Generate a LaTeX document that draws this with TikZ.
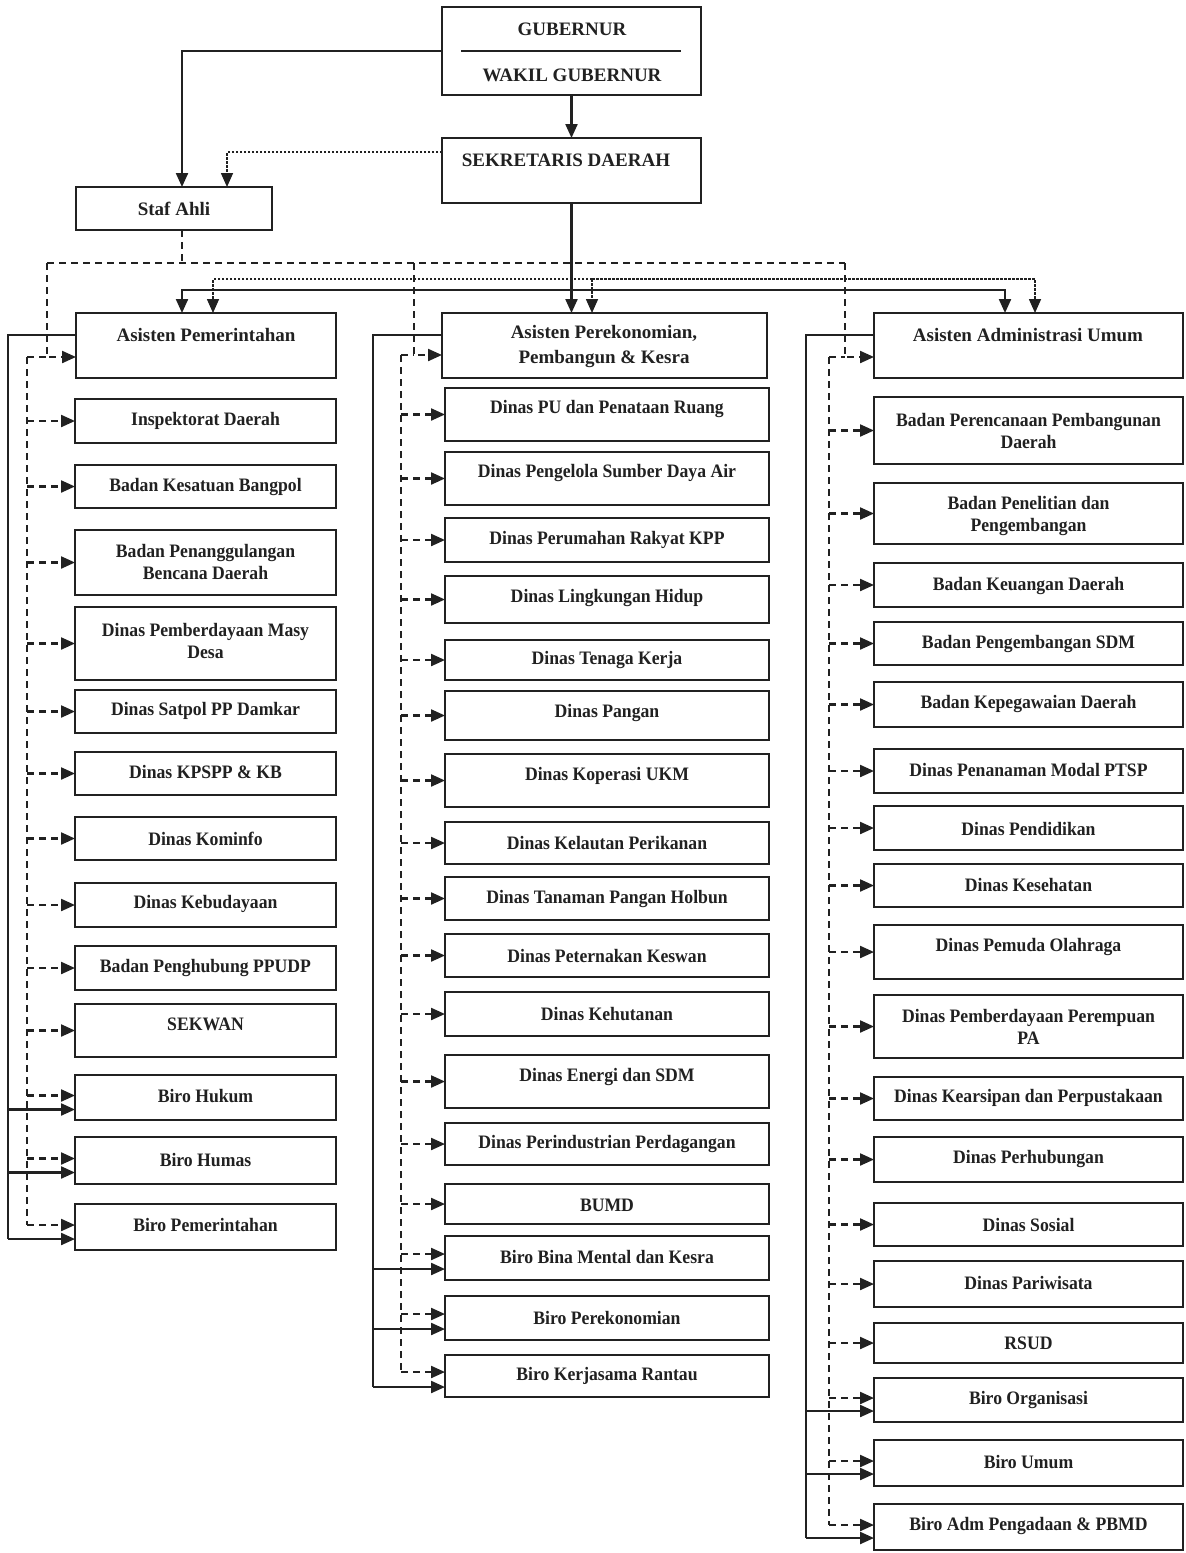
\documentclass[tikz,border=0pt]{standalone}
\usepackage{fontspec}
\setmainfont{Liberation Serif}
\newfontfamily\condfont{Liberation Serif}[FakeStretch=0.93]
\usetikzlibrary{arrows.meta,calc}
\definecolor{ink}{gray}{0.13}
\tikzset{
  box/.style={draw=ink, line width=2.4pt, rectangle, inner sep=0pt, outer sep=0pt},
  txt/.style={text=ink, font=\condfont\bfseries\fontsize{19}{22}\selectfont, align=center, inner sep=0pt},
  bigtxt/.style={text=ink, font=\bfseries\fontsize{19}{25}\selectfont, align=center, inner sep=0pt},
  sline/.style={draw=ink, line width=2.2pt},
  sarr/.style={sline, -{Triangle[length=14pt,width=12pt]}},
  dsh/.style={draw=ink, line width=2.2pt, dash pattern=on 7pt off 5pt},
  darr/.style={dsh, -{Triangle[length=14pt,width=12pt]}},
  dotln/.style={draw=ink, line width=1.6pt, dash pattern=on 2.5pt off 1.5pt},
  dotarr/.style={dotln, -{Triangle[length=14pt,width=12pt]}},
}
\newcommand\bx[7]{%
  \node[box, anchor=north west, minimum width={#4pt-#2pt}, minimum height={#5pt-#3pt}] (#1) at (#2,#3) {};
  \node[txt] (#1t) at ({(#2+#4)/2},#6) {#7};}
\newcommand\lbx[5]{\bx{#1}{75}{#2}{336}{#3}{#4}{#5}}
\newcommand\mbx[5]{\bx{#1}{445}{#2}{769}{#3}{#4}{#5}}
\newcommand\rbx[5]{\bx{#1}{874}{#2}{1183}{#3}{#4}{#5}}
\begin{document}
\begin{tikzpicture}[x=1pt,y=-1pt]
\useasboundingbox[fill=white] (0,0) rectangle (1186,1553);

% ---------- top ----------
\node[box, anchor=north west, minimum width=259pt, minimum height=88pt] (gub) at (442,7) {};
\node[bigtxt] (gubt) at (572,29) {GUBERNUR};
\node[bigtxt] (wgubt) at (572,75) {WAKIL GUBERNUR};
\draw[sline, line width=1.6pt] ([xshift=19pt]gub.west) -- ([xshift=-20pt]gub.east);

\node[box, anchor=north west, minimum width=259pt, minimum height=65pt] (sekda) at (442,138) {};
\node[bigtxt] (sekdat) at (566,160) {SEKRETARIS DAERAH};

\node[box, anchor=north west, minimum width=196pt, minimum height=43pt] (staf) at (76,187) {};
\node[bigtxt] (staft) at (174,209) {Staf Ahli};

\draw[sarr] (gub.south) -- (sekda.north);
\draw[sarr] (gub.west) -| ([xshift=8pt]staf.north);
\draw[dotarr] ([yshift=18.5pt]sekda.west) -| ([xshift=53pt]staf.north);

% ---------- asisten ----------
\node[box, anchor=north west, minimum width=260pt, minimum height=65pt] (apem) at (76,313) {};
\node[bigtxt] (apemt) at (206,335) {Asisten Pemerintahan};
\node[box, anchor=north west, minimum width=325pt, minimum height=65pt] (aek) at (442,313) {};
\node[bigtxt] (aekt) at (604,346) {Asisten Perekonomian,\\Pembangun \& Kesra};
\node[box, anchor=north west, minimum width=309pt, minimum height=65pt] (aum) at (874,313) {};
\node[bigtxt] (aumt) at (1028,335) {Asisten Administrasi Umum};

% solid from sekda
\coordinate (sbus) at (572,290);
\draw[sarr] (sekda.south) -- (sekda.south |- aek.north);
\draw[sarr] (sbus) -| ([xshift=-24pt]apem.north);
\draw[sarr] (sbus) -| ([xshift=-23.5pt]aum.north);
% dotted bus
\coordinate (dbus) at (592,279);
\draw[dotarr] (dbus) -| ([xshift=7pt]apem.north);
\draw[dotarr] (dbus) -- (dbus |- aek.north);
\draw[dotarr] (dbus) -| ([xshift=6.5pt]aum.north);
% dashed from staf ahli
\coordinate (stb) at (182,263);
\coordinate (dl) at (47,263);
\coordinate (dm) at (414,263);
\coordinate (dr) at (845,263);
\draw[dsh] ([xshift=8pt]staf.south) -- (stb);
\draw[dsh] (dl) -- (dr);
\draw[darr] (dl) |- ([yshift=-11.5pt]apem.west);
\draw[darr] (dm) |- ([yshift=-9.5pt]aek.west);
\draw[darr] (dr) |- ([yshift=-11.5pt]aum.west);

% ---------- left column ----------
\lbx{insp}{399}{443}{421}{Inspektorat Daerah}
\lbx{kesb}{465}{508}{487}{Badan Kesatuan Bangpol}
\lbx{bpbd}{530}{595}{562}{Badan Penanggulangan\\Bencana Daerah}
\lbx{pmd}{607}{680}{641}{Dinas Pemberdayaan Masy\\Desa}
\lbx{satpol}{690}{733}{711}{Dinas Satpol PP Damkar}
\lbx{kpspp}{752}{795}{772}{Dinas KPSPP \& KB}
\lbx{kominfo}{817}{860}{839}{Dinas Kominfo}
\lbx{budaya}{883}{927}{904}{Dinas Kebudayaan}
\lbx{penghub}{946}{990}{968}{Badan Penghubung PPUDP}
\lbx{sekwan}{1004}{1057}{1024}{SEKWAN}
\lbx{hukum}{1075}{1120}{1096}{Biro Hukum}
\lbx{humas}{1137}{1184}{1160}{Biro Humas}
\lbx{bpem}{1204}{1250}{1225}{Biro Pemerintahan}

% ---------- middle column ----------
\mbx{pu}{388}{441}{409}{Dinas PU dan Penataan Ruang}
\mbx{psda}{452}{505}{473}{Dinas Pengelola Sumber Daya Air}
\mbx{perkim}{518}{562}{540}{Dinas Perumahan Rakyat KPP}
\mbx{lh}{576}{623}{598}{Dinas Lingkungan Hidup}
\mbx{naker}{640}{680}{660}{Dinas Tenaga Kerja}
\mbx{pangan}{691}{740}{713}{Dinas Pangan}
\mbx{kop}{754}{807}{776}{Dinas Koperasi UKM}
\mbx{kkp}{822}{864}{843}{Dinas Kelautan Perikanan}
\mbx{tph}{877}{920}{899}{Dinas Tanaman Pangan Holbun}
\mbx{nak}{934}{977}{956}{Dinas Peternakan Keswan}
\mbx{hut}{992}{1036}{1014}{Dinas Kehutanan}
\mbx{esdm}{1055}{1108}{1077}{Dinas Energi dan SDM}
\mbx{indag}{1123}{1165}{1144}{Dinas Perindustrian Perdagangan}
\mbx{bumd}{1184}{1224}{1205}{BUMD}
\mbx{mental}{1236}{1280}{1257}{Biro Bina Mental dan Kesra}
\mbx{biroek}{1296}{1340}{1318}{Biro Perekonomian}
\mbx{rantau}{1355}{1397}{1376}{Biro Kerjasama Rantau}

% ---------- right column ----------
\rbx{bappeda}{397}{464}{431}{Badan Perencanaan Pembangunan\\Daerah}
\rbx{litbang}{483}{544}{516}{Badan Penelitian dan\\Pengembangan}
\rbx{bkd}{563}{607}{586}{Badan Keuangan Daerah}
\rbx{bpsdm}{622}{665}{644}{Badan Pengembangan SDM}
\rbx{bkpd}{682}{727}{704}{Badan Kepegawaian Daerah}
\rbx{dpmptsp}{749}{793}{770}{Dinas Penanaman Modal PTSP}
\rbx{didik}{806}{850}{829}{Dinas Pendidikan}
\rbx{kes}{864}{907}{885}{Dinas Kesehatan}
\rbx{dispora}{925}{979}{947}{Dinas Pemuda Olahraga}
\rbx{dppa}{995}{1058}{1027}{Dinas Pemberdayaan Perempuan\\PA}
\rbx{arsip}{1077}{1120}{1098}{Dinas Kearsipan dan Perpustakaan}
\rbx{hub}{1137}{1182}{1159}{Dinas Perhubungan}
\rbx{sosial}{1203}{1246}{1225}{Dinas Sosial}
\rbx{wisata}{1261}{1307}{1283}{Dinas Pariwisata}
\rbx{rsud}{1323}{1363}{1343}{RSUD}
\rbx{org}{1378}{1422}{1400}{Biro Organisasi}
\rbx{umum}{1440}{1486}{1462}{Biro Umum}
\rbx{adm}{1504}{1550}{1526}{Biro Adm Pengadaan \& PBMD}

% ---------- left buses ----------
\coordinate (lbus) at (27,357);
\coordinate (lsol) at (8,335);
\foreach \n in {hukum,humas,bpem}{
  \path ([yshift=2pt]\n.west) coordinate (\n-d);
  \path ([yshift=-12pt]\n.west) coordinate (\n-s);}
\draw[dsh] (lbus) -- (dl |- lbus);
\draw[dsh] (lbus) -- (lbus |- bpem-d);
\foreach \n in {insp,kesb,bpbd,pmd,satpol,kpspp,kominfo,budaya,penghub,sekwan}
  \draw[darr] (lbus |- \n.west) -- (\n.west);
\foreach \n in {hukum,humas,bpem}{
  \draw[darr] (lbus |- \n-d) -- (\n-d);
  \draw[sarr] (lsol |- \n-s) -- (\n-s);}
\draw[sline] ([yshift=10.5pt]apem.west) -- (lsol) -- (lsol |- bpem-s);

% ---------- middle buses ----------
\coordinate (mbus) at (401,355);
\coordinate (msol) at (373,335);
\foreach \n in {mental,biroek,rantau}{
  \path ([yshift=4pt]\n.west) coordinate (\n-d);
  \path ([yshift=-11pt]\n.west) coordinate (\n-s);}
\draw[dsh] (mbus) -- (dm |- mbus);
\draw[dsh] (mbus) -- (mbus |- rantau-d);
\foreach \n in {pu,psda,perkim,lh,naker,pangan,kop,kkp,tph,nak,hut,esdm,indag,bumd}
  \draw[darr] (mbus |- \n.west) -- (\n.west);
\foreach \n in {mental,biroek,rantau}{
  \draw[darr] (mbus |- \n-d) -- (\n-d);
  \draw[sarr] (msol |- \n-s) -- (\n-s);}
\draw[sline] ([yshift=10.5pt]aek.west) -- (msol) -- (msol |- rantau-s);

% ---------- right buses ----------
\coordinate (rbus) at (829,357);
\coordinate (rsol) at (806,335);
\foreach \n in {org,umum,adm}{
  \path ([yshift=2pt]\n.west) coordinate (\n-d);
  \path ([yshift=-11pt]\n.west) coordinate (\n-s);}
\draw[dsh] (rbus) -- (dr |- rbus);
\draw[dsh] (rbus) -- (rbus |- adm-d);
\foreach \n in {bappeda,litbang,bkd,bpsdm,bkpd,dpmptsp,didik,kes,dispora,dppa,arsip,hub,sosial,wisata,rsud}
  \draw[darr] (rbus |- \n.west) -- (\n.west);
\foreach \n in {org,umum,adm}{
  \draw[darr] (rbus |- \n-d) -- (\n-d);
  \draw[sarr] (rsol |- \n-s) -- (\n-s);}
\draw[sline] ([yshift=10.5pt]aum.west) -- (rsol) -- (rsol |- adm-s);
\end{tikzpicture}
\end{document}
